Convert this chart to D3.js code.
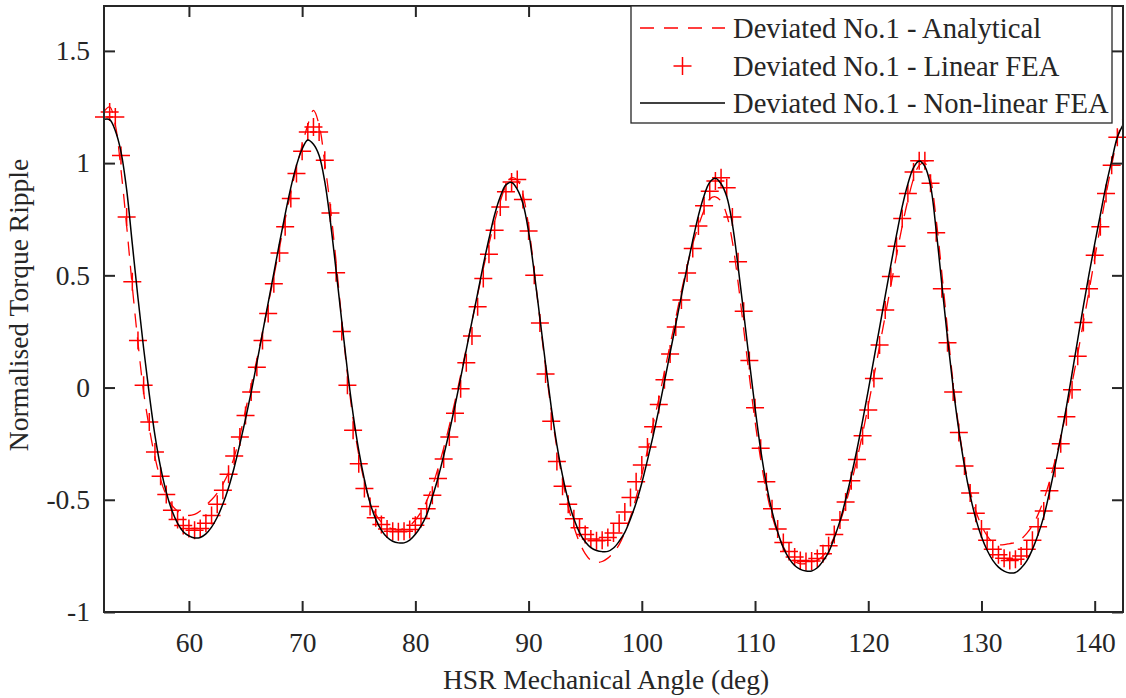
<!DOCTYPE html>
<html>
<head>
<meta charset="utf-8">
<script src="https://cdn.jsdelivr.net/npm/d3@7"></script>
<style>
  body { margin: 0; background: #fff; }
  svg { display: block; }
  text { font-family: "Liberation Serif", "Times New Roman", serif; fill: #262626; }
</style>
</head>
<body>
<svg id="chart" width="1126" height="698"></svg>
<script>
// Sampling grid of the HSR mechanical angle (deg)
const angleStart = 52.5;
const angleStep = 0.5;

// Deviated No.1 - Analytical
const analytical = [
  1.23, 1.25, 1.17, 0.97, 0.72, 0.45, 0.2, -0.02, -0.18, -0.31, -0.41, -0.48, -0.525, -0.55, -0.565, -0.57, -0.565,
  -0.55, -0.525, -0.5, -0.47, -0.43, -0.38, -0.31, -0.215, -0.1, 0.01, 0.125, 0.245, 0.37, 0.495, 0.625, 0.75, 0.87, 0.98, 1.08, 1.17,
  1.235, 1.17, 1.0, 0.8, 0.56, 0.3, 0.06, -0.14, -0.3, -0.42, -0.51, -0.565, -0.6, -0.62, -0.63, -0.632,
  -0.628, -0.615, -0.59, -0.555, -0.505, -0.44, -0.36, -0.27, -0.17, -0.06, 0.055, 0.175, 0.295, 0.415, 0.53, 0.64, 0.74, 0.83, 0.9, 0.935,
  0.925, 0.86, 0.72, 0.52, 0.3, 0.09, -0.1, -0.27, -0.41, -0.53, -0.62, -0.69, -0.74, -0.77, -0.78, -0.775,
  -0.76, -0.735, -0.7, -0.645, -0.575, -0.49, -0.39, -0.28, -0.165, -0.05, 0.07, 0.19, 0.31, 0.43, 0.54, 0.64, 0.72, 0.79, 0.84, 0.85,
  0.83, 0.77, 0.65, 0.47, 0.26, 0.05, -0.15, -0.32, -0.46, -0.57, -0.65, -0.71, -0.75, -0.775, -0.785, -0.785,
  -0.78, -0.77, -0.75, -0.715, -0.665, -0.6, -0.52, -0.425, -0.32, -0.205, -0.08, 0.05, 0.185, 0.32, 0.455, 0.59, 0.72, 0.835, 0.93, 0.99,
  1.0, 0.93, 0.75, 0.51, 0.26, 0.02, -0.18, -0.34, -0.46, -0.55, -0.615, -0.66, -0.69, -0.7, -0.7, -0.695,
  -0.69, -0.675, -0.65, -0.615, -0.565, -0.5, -0.42, -0.325, -0.22, -0.105, 0.02, 0.15, 0.29, 0.43, 0.575, 0.72, 0.86, 0.99, 1.11, 1.2
];

// Deviated No.1 - Linear FEA
const linearFEA = [
  1.206, 1.228, 1.206, 1.034, 0.76, 0.471, 0.21, 0.01, -0.153, -0.287, -0.395, -0.477, -0.547, -0.588, -0.615, -0.628, -0.636,
  -0.628, -0.605, -0.57, -0.52, -0.458, -0.386, -0.305, -0.22, -0.125, -0.02, 0.09, 0.21, 0.33, 0.463, 0.6, 0.716, 0.842, 0.954, 1.053, 1.139,
  1.161, 1.139, 1.013, 0.778, 0.511, 0.25, 0.01, -0.19, -0.34, -0.45, -0.53, -0.58, -0.61, -0.63, -0.64, -0.642,
  -0.64, -0.632, -0.613, -0.583, -0.54, -0.48, -0.405, -0.318, -0.22, -0.115, -0.005, 0.11, 0.23, 0.36, 0.486, 0.594, 0.701, 0.805, 0.872, 0.916,
  0.927, 0.838, 0.698, 0.5, 0.288, 0.06, -0.15, -0.33, -0.44, -0.52, -0.585, -0.625, -0.655, -0.675, -0.683, -0.68,
  -0.668, -0.648, -0.605, -0.555, -0.49, -0.42, -0.345, -0.265, -0.175, -0.075, 0.035, 0.15, 0.27, 0.39, 0.51, 0.62, 0.72, 0.81, 0.875, 0.92,
  0.935, 0.89, 0.76, 0.56, 0.34, 0.12, -0.09, -0.27, -0.42, -0.54, -0.63, -0.69, -0.73, -0.755, -0.77, -0.775,
  -0.773, -0.762, -0.74, -0.705, -0.655, -0.59, -0.51, -0.415, -0.32, -0.215, -0.1, 0.04, 0.19, 0.345, 0.495, 0.63, 0.753, 0.865, 0.96, 1.01,
  1.01, 0.91, 0.69, 0.44, 0.2, -0.02, -0.2, -0.35, -0.47, -0.56, -0.63, -0.68, -0.72, -0.745, -0.76, -0.77,
  -0.765, -0.75, -0.72, -0.68, -0.62, -0.55, -0.46, -0.36, -0.25, -0.13, -0.01, 0.14, 0.29, 0.44, 0.59, 0.716, 0.865, 0.99, 1.115, null
];

// Deviated No.1 - Non-linear FEA
const nonlinearFEA = [
  1.195, 1.194, 1.144, 1.05, 0.882, 0.64, 0.4, 0.175, -0.03, -0.213, -0.356, -0.466, -0.548, -0.605, -0.642, -0.661, -0.67,
  -0.668, -0.652, -0.622, -0.578, -0.519, -0.446, -0.356, -0.252, -0.14, -0.02, 0.11, 0.244, 0.377, 0.51, 0.644, 0.772, 0.891, 0.99, 1.063, 1.103,
  1.084, 1.034, 0.917, 0.737, 0.521, 0.296, 0.076, -0.118, -0.28, -0.41, -0.514, -0.586, -0.635, -0.667, -0.685, -0.692,
  -0.692, -0.68, -0.654, -0.617, -0.567, -0.488, -0.403, -0.304, -0.197, -0.081, 0.043, 0.169, 0.295, 0.42, 0.546, 0.663, 0.77, 0.85, 0.903, 0.914,
  0.883, 0.82, 0.695, 0.512, 0.309, 0.105, -0.087, -0.255, -0.392, -0.502, -0.585, -0.646, -0.687, -0.713, -0.726, -0.731,
  -0.73, -0.715, -0.685, -0.645, -0.585, -0.513, -0.425, -0.323, -0.215, -0.098, 0.027, 0.155, 0.282, 0.41, 0.537, 0.656, 0.766, 0.855, 0.915, 0.933,
  0.908, 0.851, 0.728, 0.541, 0.332, 0.117, -0.09, -0.278, -0.43, -0.551, -0.644, -0.714, -0.761, -0.793, -0.81, -0.817,
  -0.817, -0.803, -0.773, -0.733, -0.669, -0.595, -0.5, -0.394, -0.277, -0.148, -0.013, 0.128, 0.267, 0.408, 0.548, 0.681, 0.806, 0.907, 0.98, 1.009,
  0.985, 0.9, 0.7, 0.46, 0.22, 0.0, -0.19, -0.35, -0.48, -0.585, -0.665, -0.725, -0.77, -0.8, -0.818, -0.826,
  -0.824, -0.804, -0.772, -0.721, -0.655, -0.575, -0.468, -0.349, -0.224, -0.087, 0.063, 0.214, 0.363, 0.505, 0.64, 0.77, 0.9, 1.01, 1.115, 1.17
];

const xTicks = [60, 70, 80, 90, 100, 110, 120, 130, 140];
const yTicks = [-1, -0.5, 0, 0.5, 1, 1.5];
const yTickLabels = ["-1", "-0.5", "0", "0.5", "1", "1.5"];
const seriesNames = [
  "Deviated No.1 - Analytical",
  "Deviated No.1 - Linear FEA",
  "Deviated No.1 - Non-linear FEA"
];
const xTitle = "HSR Mechanical Angle (deg)";
const yTitle = "Normalised Torque Ripple";

const angles = analytical.map((_, i) => angleStart + i * angleStep);

const plot = { left: 104, right: 1123, top: 6, bottom: 612 };
const axisColor = "#262626";
const red = "#ff0000";

const svg = d3.select("#chart");

const x = d3.scaleLinear().domain([52.5, 142.5]).range([plot.left, plot.right]);
const y = d3.scaleLinear().domain([-1, 1.7]).range([plot.bottom, plot.top]);

const toPoints = vals => vals.map((v, i) => [angles[i], v]).filter(d => d[1] !== null);

const line = d3.line()
  .x(d => x(d[0]))
  .y(d => y(d[1]))
  .curve(d3.curveCatmullRom.alpha(0.5));

// Analytical: dashed red line
svg.append("path")
  .attr("d", line(toPoints(analytical)))
  .attr("fill", "none")
  .attr("stroke", red)
  .attr("stroke-width", 1.3)
  .attr("stroke-dasharray", "14,10");

// Linear FEA: red plus markers
const plus = "M-9,0H9M0,-9V9";
svg.append("g")
  .selectAll("path")
  .data(toPoints(linearFEA))
  .join("path")
  .attr("transform", d => `translate(${x(d[0])},${y(d[1])})`)
  .attr("d", plus)
  .attr("fill", "none")
  .attr("stroke", red)
  .attr("stroke-width", 1.5);

// Non-linear FEA: solid black line
svg.append("path")
  .attr("d", line(toPoints(nonlinearFEA)))
  .attr("fill", "none")
  .attr("stroke", "#000")
  .attr("stroke-width", 1.5);

// Axes with inward ticks on all four sides
const tickLen = 11;
const fontSize = 27.5;

const gx = svg.append("g")
  .attr("transform", `translate(0,${plot.bottom})`)
  .call(d3.axisBottom(x).tickValues(xTicks).tickSizeInner(-tickLen).tickSizeOuter(0).tickPadding(20).tickFormat(d3.format("d")));

const gxTop = svg.append("g")
  .attr("transform", `translate(0,${plot.top})`)
  .call(d3.axisTop(x).tickValues(xTicks).tickSizeInner(-tickLen).tickSizeOuter(0).tickFormat(""));

const gy = svg.append("g")
  .attr("transform", `translate(${plot.left},0)`)
  .call(d3.axisLeft(y).tickValues(yTicks).tickSizeInner(-tickLen).tickSizeOuter(0).tickPadding(14)
    .tickFormat((d, i) => yTickLabels[i]));

const gyRight = svg.append("g")
  .attr("transform", `translate(${plot.right},0)`)
  .call(d3.axisRight(y).tickValues(yTicks).tickSizeInner(-tickLen).tickSizeOuter(0).tickFormat(""));

[gx, gxTop, gy, gyRight].forEach(g => {
  g.select(".domain").remove();
  g.selectAll(".tick line").attr("stroke", axisColor).attr("stroke-width", 2);
  g.selectAll("text")
    .attr("fill", axisColor)
    .style("font-family", '"Liberation Serif", "Times New Roman", serif')
    .style("font-size", fontSize + "px");
});

// Axes box
svg.append("rect")
  .attr("x", plot.left)
  .attr("y", plot.top)
  .attr("width", plot.right - plot.left)
  .attr("height", plot.bottom - plot.top)
  .attr("fill", "none")
  .attr("stroke", axisColor)
  .attr("stroke-width", 2);

// Axis titles
svg.append("text")
  .attr("x", 606)
  .attr("y", 689)
  .attr("text-anchor", "middle")
  .style("font-size", fontSize + "px")
  .text(xTitle);

svg.append("text")
  .attr("transform", "translate(28,305) rotate(-90)")
  .attr("text-anchor", "middle")
  .style("font-size", fontSize + "px")
  .text(yTitle);

// Legend
const legend = svg.append("g");
legend.append("rect")
  .attr("x", 631)
  .attr("y", plot.top)
  .attr("width", 481)
  .attr("height", 117)
  .attr("fill", "#fff")
  .attr("stroke", axisColor)
  .attr("stroke-width", 1.3);

const rowY = [28, 66, 103];
const sampleX0 = 640, sampleX1 = 725;

legend.append("line")
  .attr("x1", sampleX0).attr("x2", sampleX1)
  .attr("y1", rowY[0]).attr("y2", rowY[0])
  .attr("stroke", red).attr("stroke-width", 1.3)
  .attr("stroke-dasharray", "14,10");

legend.append("path")
  .attr("transform", `translate(${(sampleX0 + sampleX1) / 2},${rowY[1]})`)
  .attr("d", plus)
  .attr("fill", "none")
  .attr("stroke", red)
  .attr("stroke-width", 1.5);

legend.append("line")
  .attr("x1", sampleX0).attr("x2", sampleX1)
  .attr("y1", rowY[2]).attr("y2", rowY[2])
  .attr("stroke", "#000").attr("stroke-width", 1.5);

legend.selectAll("text.entry")
  .data(seriesNames)
  .join("text")
  .attr("class", "entry")
  .attr("x", 733)
  .attr("y", (d, i) => rowY[i])
  .attr("dy", "0.35em")
  .style("font-size", "28.6px")
  .text(d => d);
</script>
</body>
</html>
